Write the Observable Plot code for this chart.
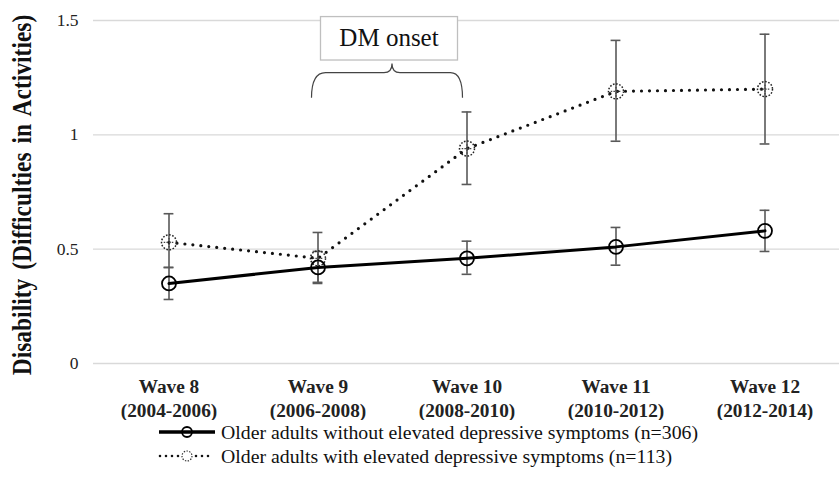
<!DOCTYPE html>
<html><head><meta charset="utf-8">
<script src="https://cdn.jsdelivr.net/npm/d3@7"></script>
<script src="https://cdn.jsdelivr.net/npm/@observablehq/plot@0.6"></script>
<style>
body{margin:0;background:#fff;font-family:"Liberation Serif",serif;}
#legend{margin-left:158px;margin-top:0px;font-size:19.8px;color:#111;}
#legend .row{display:flex;align-items:center;height:24px;}
#legend svg{margin-right:5px;}
</style>
</head><body>
<div id="chart"></div>
<div id="legend"></div>
<script>
const waves = ["Wave 8","Wave 9","Wave 10","Wave 11","Wave 12"];
const periods = ["(2004-2006)","(2006-2008)","(2008-2010)","(2010-2012)","(2012-2014)"];
const seriesNames = ["Older adults without elevated depressive symptoms (n=306)","Older adults with elevated depressive symptoms (n=113)"];
const withoutMean = [0.35, 0.42, 0.46, 0.51, 0.58];
const withoutLow  = [0.28, 0.355, 0.39, 0.43, 0.49];
const withoutHigh = [0.42, 0.49, 0.535, 0.595, 0.67];
const withMean = [0.53, 0.46, 0.94, 1.19, 1.20];
const withLow  = [0.42, 0.35, 0.783, 0.972, 0.96];
const withHigh = [0.655, 0.573, 1.10, 1.413, 1.44];
const yTicks = [0, 0.5, 1, 1.5];
const annotationText = "DM onset";
const yTitle = "Disability (Difficulties in Activities)";

const FONT = '"Liberation Serif", serif';
const without = waves.map((w,i)=>({wave:w, v:withoutMean[i], lo:withoutLow[i], hi:withoutHigh[i]}));
const withD = waves.map((w,i)=>({wave:w, v:withMean[i], lo:withLow[i], hi:withHigh[i]}));
const errColor = "#595959";
const W = 839, H = 420;
const band = (W-93)/5;
const capInset = (band-10)/2;

const plot = Plot.plot({
  width: W, height: H,
  marginLeft: 93, marginRight: 0, marginTop: 20, marginBottom: 57,
  style: {fontFamily: FONT, fontSize: "17px", color:"#222"},
  x: {domain: waves, padding: 0, label: null},
  y: {domain: [0, 1.5], label: null},
  marks: [
    Plot.gridY(yTicks, {stroke: "#d9d9d9", strokeOpacity: 1, strokeWidth: 1.3}),
    Plot.axisY(yTicks, {tickSize: 0, tickPadding: 15, fontSize: 17.5, tickFormat: d => String(d), label: null}),
    Plot.axisX(waves, {tickSize: 0, tickPadding: 12, fontSize: 19.3, fontWeight: "bold", lineHeight: 1.27,
      tickFormat: (d) => d + "\n" + periods[waves.indexOf(d)], label: null}),
    Plot.ruleX(withD, {x: "wave", y1: "lo", y2: "hi", stroke: errColor, strokeWidth: 1.6}),
    Plot.tickY(withD, {x: "wave", y: "lo", stroke: errColor, strokeWidth: 1.6, insetLeft: capInset, insetRight: capInset}),
    Plot.tickY(withD, {x: "wave", y: "hi", stroke: errColor, strokeWidth: 1.6, insetLeft: capInset, insetRight: capInset}),
    Plot.ruleX(without, {x: "wave", y1: "lo", y2: "hi", stroke: errColor, strokeWidth: 1.6}),
    Plot.tickY(without, {x: "wave", y: "lo", stroke: errColor, strokeWidth: 1.6, insetLeft: capInset, insetRight: capInset}),
    Plot.tickY(without, {x: "wave", y: "hi", stroke: errColor, strokeWidth: 1.6, insetLeft: capInset, insetRight: capInset}),
    Plot.line(withD, {x: "wave", y: "v", stroke: "#111", strokeWidth: 3.2, strokeDasharray: "0,8", strokeLinecap: "round"}),
    Plot.line(without, {x: "wave", y: "v", stroke: "#000", strokeWidth: 3}),
    Plot.dot(withD, {x: "wave", y: "v", r: 7.5, stroke: "#222", strokeWidth: 1.5, strokeDasharray: "1.6,1.6", fill: "none"}),
    Plot.dot(withD, {x: "wave", y: "v", symbol: "plus", r: 3.5, stroke: "#444", strokeWidth: 1.2, strokeDasharray: "1.5,1.2"}),
    Plot.dot(without, {x: "wave", y: "v", r: 7, stroke: "#000", strokeWidth: 1.8, fill: "none"})
  ]
});

const svg = d3.select(plot);
const ys = plot.scale("y"), xs = plot.scale("x");
svg.append("text")
  .attr("transform", `translate(31,195) rotate(-90) scale(1,1.12)`)
  .attr("text-anchor", "middle")
  .attr("font-weight", "bold").attr("font-size", 23.5)
  .attr("font-family", FONT)
  .attr("word-spacing", 3)
  .attr("fill", "#111")
  .text(yTitle);

const bw = xs.bandwidth;
const x9 = xs.apply("Wave 9") + bw/2, x10 = xs.apply("Wave 10") + bw/2;
const xm = (x9 + x10) / 2;
const yEnd = ys.apply(1.16), yBar = ys.apply(1.27), yTip = ys.apply(1.31);
const g = svg.append("g");
g.append("path")
  .attr("d", `M${x9-6},${yEnd} Q${x9-6},${yBar} ${x9+8},${yBar} L${xm-8},${yBar} Q${xm},${yBar} ${xm},${yTip} Q${xm},${yBar} ${xm+8},${yBar} L${x10-16},${yBar} Q${x10-4},${yBar} ${x10-4},${yEnd}`)
  .attr("fill", "none").attr("stroke", "#444").attr("stroke-width", 1.2);
const bx0 = x9 + 3, bx1 = x10 - 9, by0 = ys.apply(1.515), by1 = ys.apply(1.325);
g.append("rect").attr("x", bx0).attr("y", by0).attr("width", bx1-bx0).attr("height", by1-by0)
  .attr("fill", "#fff").attr("stroke", "#bfbfbf").attr("stroke-width", 1.3);
g.append("text").attr("x", (bx0+bx1)/2).attr("y", (by0+by1)/2 + 8)
  .attr("text-anchor", "middle").attr("font-size", 25)
  .attr("font-family", FONT).attr("fill", "#111")
  .text(annotationText);

document.getElementById("chart").append(plot);

const leg = d3.select("#legend");
const r1 = leg.append("div").attr("class","row");
const s1 = r1.append("svg").attr("width", 58).attr("height", 16);
s1.append("line").attr("x1",1).attr("x2",57).attr("y1",8).attr("y2",8).attr("stroke","#000").attr("stroke-width",3.5);
s1.append("circle").attr("cx",29).attr("cy",8).attr("r",5).attr("fill","none").attr("stroke","#000").attr("stroke-width",1.8);
r1.append("span").text(seriesNames[0]);
const r2 = leg.append("div").attr("class","row");
const s2 = r2.append("svg").attr("width", 58).attr("height", 16);
s2.append("line").attr("x1",2).attr("x2",56).attr("y1",8).attr("y2",8).attr("stroke","#111").attr("stroke-width",2.6).attr("stroke-dasharray","0,6").attr("stroke-linecap","round");
s2.append("circle").attr("cx",29).attr("cy",8).attr("r",5).attr("fill","#fff").attr("stroke","#333").attr("stroke-width",1.2).attr("stroke-dasharray","1.4,1.4");
r2.append("span").text(seriesNames[1]);
</script>
</body></html>
